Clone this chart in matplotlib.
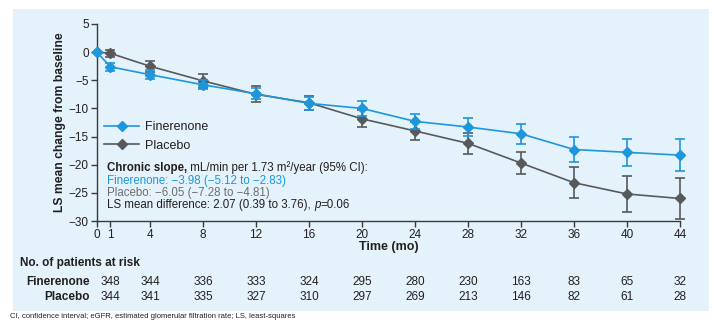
import matplotlib.pyplot as plt
from matplotlib.lines import Line2D
from matplotlib.patches import Rectangle
from matplotlib.transforms import blended_transform_factory

plt.rcParams['font.family'] = ['Liberation Sans', 'DejaVu Sans']

# LS mean change in eGFR from baseline (mL/min/1.73 m2)
months = [0, 1, 4, 8, 12, 16, 20, 24, 28, 32, 36, 40, 44]
finerenone = [0, -2.6, -4.0, -5.8, -7.4, -9.1, -10.0, -12.3, -13.3, -14.5, -17.3, -17.8, -18.3]
finerenone_ci = [0, 0.7, 0.75, 0.8, 1.0, 1.2, 1.3, 1.3, 1.55, 1.8, 2.2, 2.45, 2.8]
placebo = [0, -0.2, -2.5, -5.1, -7.5, -9.0, -11.85, -14.0, -16.2, -19.7, -23.2, -25.2, -26.0]
placebo_ci = [0, 0.65, 0.95, 1.25, 1.4, 1.2, 1.5, 1.65, 1.85, 2.0, 2.75, 3.2, 3.7]

# patients at risk table
risk_months = [1, 4, 8, 12, 16, 20, 24, 28, 32, 36, 40, 44]
risk_finerenone = [348, 344, 336, 333, 324, 295, 280, 230, 163, 83, 65, 32]
risk_placebo = [344, 341, 335, 327, 310, 297, 269, 213, 146, 82, 61, 28]

blue = '#1e96dc'
grey = '#58595b'
ink = '#231f20'

fig = plt.figure(figsize=(7.14, 3.25), dpi=100)
fig.patches.append(Rectangle((13 / 714, 1 - 311 / 325), 696 / 714, 302 / 325,
                             transform=fig.transFigure, facecolor='#e4f2fb',
                             edgecolor='none', zorder=-10))

ax = fig.add_axes([97 / 714, 1 - 221 / 325, 583 / 714, 197 / 325])
ax.set_facecolor('none')

ax.errorbar(months, placebo, yerr=placebo_ci, color=grey, marker='D', markersize=5.5,
            linewidth=1.2, elinewidth=1.2, capsize=3.5, capthick=1.2,
            zorder=2, clip_on=False)
ax.errorbar(months, finerenone, yerr=finerenone_ci, color=blue, marker='D', markersize=5.5,
            linewidth=1.2, elinewidth=1.2, capsize=3.5, capthick=1.2,
            zorder=3, clip_on=False)

ax.set_xlim(0, 44)
ax.set_ylim(-30, 5)
ax.set_xticks(months)
ax.set_yticks(range(-30, 6, 5))
for side in ['top', 'right']:
    ax.spines[side].set_visible(False)
for side in ['left', 'bottom']:
    ax.spines[side].set_color('#3a3a3a')
    ax.spines[side].set_linewidth(1.0)
ax.tick_params(colors='#3a3a3a', labelcolor=ink, labelsize=8.5, length=4, width=1.0, pad=2)

ax.set_ylabel('LS mean change from baseline', fontsize=8.7, fontweight='bold', color=ink, labelpad=2)
ax.set_xlabel('Time (mo)', fontsize=9, fontweight='bold', color=ink, labelpad=0)

# legend shows line + marker only
handles = [Line2D([], [], color=blue, marker='D', markersize=5.5, linewidth=1.2),
           Line2D([], [], color=grey, marker='D', markersize=5.5, linewidth=1.2)]
ax.legend(handles, ['Finerenone', 'Placebo'], loc='upper left',
          bbox_to_anchor=(104 / 714, 1 - 121 / 325), bbox_transform=fig.transFigure,
          frameon=False, fontsize=9, handlelength=2.8, handletextpad=0.5,
          labelspacing=0.55, borderaxespad=0, borderpad=0, labelcolor=ink)

# chronic slope summary
fs = 8.3
tx = 107 / 714
t1 = fig.text(tx, 1 - 168 / 325, 'Chronic slope,', fontsize=fs, fontweight='bold', color=ink, va='center')
ax.annotate(' mL/min per 1.73 m²/year (95% CI):', xy=(1, 0.5), xycoords=t1, va='center',
            fontsize=fs, color=ink)
fig.text(tx, 1 - 181 / 325, 'Finerenone: −3.98 (−5.12 to −2.83)', fontsize=fs, color=blue, va='center')
fig.text(tx, 1 - 193 / 325, 'Placebo: −6.05 (−7.28 to −4.81)', fontsize=fs, color='#6d6e70', va='center')
t4 = fig.text(tx, 1 - 205 / 325, 'LS mean difference: 2.07 (0.39 to 3.76), ', fontsize=fs, color=ink, va='center')
t5 = ax.annotate('p', xy=(1, 0.5), xycoords=t4, va='center', fontsize=fs, color=ink, style='italic')
ax.annotate('=0.06', xy=(1, 0.5), xycoords=t5, va='center', fontsize=fs, color=ink)

# at-risk table
row = blended_transform_factory(ax.transData, fig.transFigure)
fig.text(20 / 714, 1 - 263 / 325, 'No. of patients at risk', fontsize=8.5, fontweight='bold', color=ink, va='center')
fig.text(90 / 714, 1 - 282 / 325, 'Finerenone', fontsize=8.5, fontweight='bold', color=ink, va='center', ha='right')
fig.text(90 / 714, 1 - 297 / 325, 'Placebo', fontsize=8.5, fontweight='bold', color=ink, va='center', ha='right')
for m, nf, npl in zip(risk_months, risk_finerenone, risk_placebo):
    ax.text(m, 1 - 282 / 325, str(nf), transform=row, fontsize=8.5, color=ink, ha='center', va='center')
    ax.text(m, 1 - 297 / 325, str(npl), transform=row, fontsize=8.5, color=ink, ha='center', va='center')

fig.text(10 / 714, 1 - 317 / 325,
         'CI, confidence interval; eGFR, estimated glomerular filtration rate; LS, least-squares',
         fontsize=5.5, color=ink, va='center')

fig.savefig('out.png', dpi=100, facecolor='white')
